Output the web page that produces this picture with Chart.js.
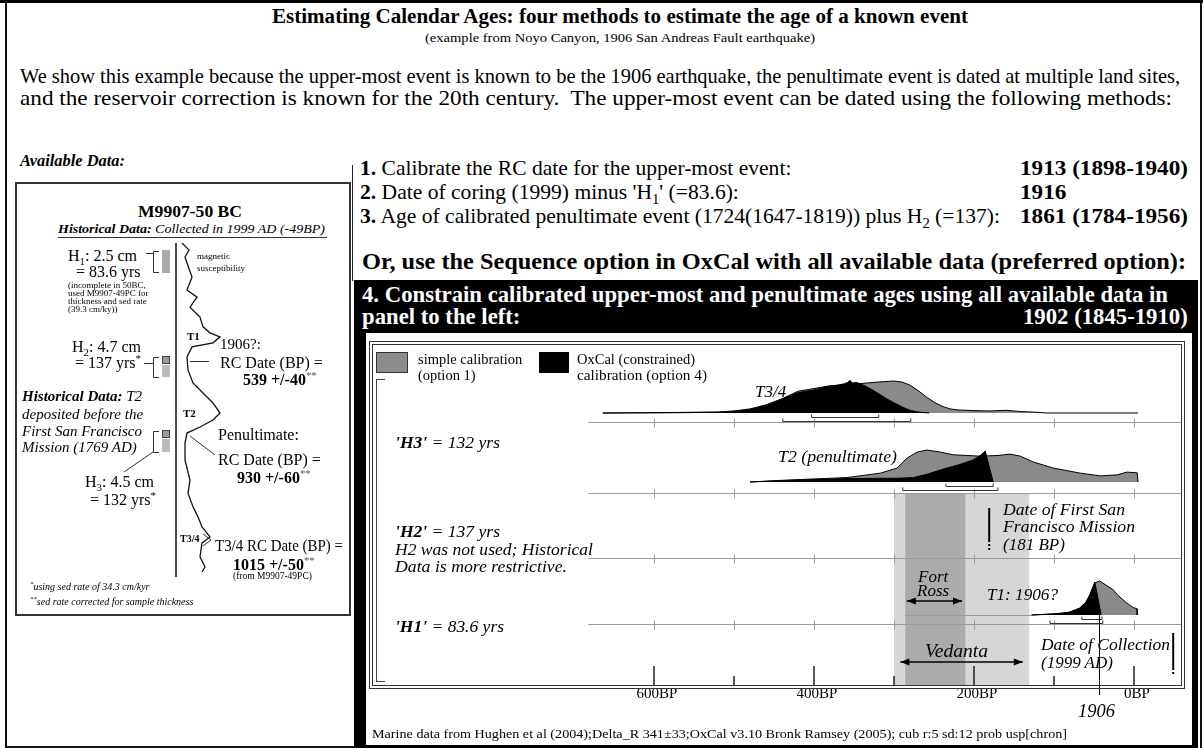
<!DOCTYPE html>
<html>
<head>
<meta charset="utf-8">
<title>Estimating Calendar Ages</title>
<script src="https://cdn.jsdelivr.net/npm/chart.js@4.4.1/dist/chart.umd.min.js"></script>
<style>
  body { margin: 0; width: 1203px; height: 748px; position: relative; overflow: hidden; background: #fff;
         font-family: "Liberation Serif", "Times New Roman", serif; color: #000; }
  .t { position: absolute; white-space: nowrap; line-height: 1; transform-origin: 0 0; }
  .t sub, .t sup { font-size: 0.68em; line-height: 0; }
  .r { position: absolute; box-sizing: border-box; }
  canvas { position: absolute; }
</style>
</head>
<body>
<div class="r" style="left:0;top:0;width:1203px;height:3px;background:#000"></div>
<div class="r" style="left:5px;top:0;width:2px;height:748px;background:#111"></div>
<div class="r" style="left:1200px;top:0;width:2px;height:748px;background:#111"></div>
<div class="r" style="left:5px;top:746px;width:350px;height:2px;background:#111"></div>
<div class="r" style="left:352px;top:165px;width:1px;height:116px;background:#222"></div>

<!-- left panel: core log -->
<div class="r" style="left:15px;top:182px;width:336px;height:434px;border:2px solid #333"></div>
<div class="r" style="left:58px;top:237px;width:269px;height:1px;background:#333"></div>
<svg class="r" style="left:0;top:0" width="360" height="620">
  <g fill="none" stroke="#333" stroke-width="1">
    <path d="M146 253.5H153M159 251.5H153.5V272.5H159"/>
    <path d="M144 363.5H153M159 357.5H153.5V377.5H159"/>
    <path d="M159 431.5H153.5V452.5H159M124 472L153 452"/>
    <path d="M190 361.5H209"/>
    <path d="M190 436L215 455"/>
    <path d="M203 534L211 540L203 546"/>
  </g>
  <rect x="162" y="250" width="8" height="23" fill="#aaa"/>
  <rect x="162.5" y="356.5" width="7" height="7" fill="#9a9a9a" stroke="#444"/>
  <rect x="162" y="365" width="8" height="12" fill="#bbb"/>
  <rect x="162.5" y="430.5" width="7" height="7" fill="#9a9a9a" stroke="#444"/>
  <rect x="162" y="439" width="8" height="13" fill="#bbb"/>
</svg>
<canvas id="core" width="70" height="340" style="left:170px;top:240px"></canvas>

<!-- right panel: OxCal plot -->
<div class="r" style="left:354px;top:280px;width:844px;height:468px;background:#000"></div>
<div class="r" style="left:366px;top:333px;width:826px;height:412px;background:#fff"></div>
<canvas id="cal" width="826" height="412" style="left:366px;top:333px"></canvas>
<div class="r" style="left:369px;top:341px;width:816px;height:348px;border:1px solid #333"></div>
<div class="r" style="left:372px;top:344px;width:810px;height:342px;border:1px solid #333"></div>
<div class="r" style="left:376px;top:379px;width:9px;height:303px;border:1px solid #444;border-right:none"></div>
<div class="r" style="left:376px;top:352px;width:32px;height:21px;background:#8c8c8c;border:1px solid #333"></div>
<div class="r" style="left:539px;top:352px;width:30px;height:21px;background:#000"></div>

<script>
// magnetic susceptibility log (arbitrary units) against depth in core (cm)
const coreDepth = [0, 2.1, 4.2, 6, 10.2, 14.1, 16.2, 19.2, 22.2, 25.1, 26.9, 28.1, 29.9, 31.1, 34.1, 38, 41.9, 44.9, 47.9, 50.9,
  53, 55.1, 56.9, 59.9, 65, 71, 74.9, 79, 82, 85, 88, 89.8, 94, 97, 98.5];
const coreSus = [7, 14, 10, 12, 17, 12, 22, 15, 25, 28, 35, 45, 38, 17, 12, 13, 18, 28, 38, 45,
  38, 25, 12, 10, 10, 15, 13, 18, 23, 27, 35, 27, 25, 30, 27];

// calibrated distributions, relative probability (%) against cal BP
const t34SimpleBP = [664, 600, 560, 520, 500, 480, 460, 440, 420, 400, 380, 360, 340, 320, 300, 290, 280, 270, 260, 250,
  240, 230, 220, 200, 180, 160, 150, 140, 120, 110, -5];
const t34SimpleP = [0, 1, 2, 3, 6, 12, 24, 42, 64, 72, 80, 84, 87, 91, 94, 91, 82, 66, 48, 32,
  20, 12, 9, 7, 6, 8, 6, 4, 2, 0, 0];
const t34OxcalBP = [664, 560, 520, 500, 480, 460, 440, 420, 400, 390, 382, 376, 368, 362, 358, 355, 352, 347, 340, 330,
  320, 310, 300, 290, 280, 270, 256];
const t34OxcalP = [0, 1, 2, 4, 10, 22, 40, 60, 68, 73, 79, 78, 83, 86, 90, 96, 88, 90, 84, 72,
  58, 43, 30, 18, 8, 3, 0];
const t2SimpleBP = [480, 440, 400, 359, 317, 296, 284, 271, 259, 242, 226, 192, 170, 155, 142, 126, 101, 67, 42, 21, 9, -4, -5];
const t2SimpleP = [0, 5, 9, 13, 26, 41, 70, 88, 94, 88, 80, 76, 78, 82, 76, 59, 41, 26, 18, 21, 29, 27, 0];
const t2OxcalBP = [480, 440, 400, 359, 317, 296, 276, 260, 234, 220, 201, 192, 186, 176];
const t2OxcalP = [0, 4, 7, 10, 11, 11, 13, 22, 41, 50, 65, 78, 91, 0];
const t1SimpleBP = [128, 100, 80, 68, 60, 55, 52, 49, 43, 35, 26, 21, 9, 1, -4, -4];
const t1SimpleP = [0, 3, 8, 20, 38, 60, 78, 94, 100, 88, 74, 60, 35, 22, 18, 0];
const t1OxcalBP = [128, 110, 90, 80, 68, 60, 55, 52, 49, 41];
const t1OxcalP = [0, 2, 5, 9, 20, 38, 60, 78, 97, 0];
const t1LeadBP = [286, 128];

// 68% and 95% ranges (T3/4, T2, T1)
const range68From = [403, 235, 65];
const range68To = [319, 176, 40];
const range95From = [439, 289, 105];
const range95To = [279, 170, 39];

// historical constraints
const bandNames = ['Vedanta', 'Fort Ross'];
const bandFrom = [300, 286];
const bandTo = [131, 211];
const missionBP = 181;
const collectionBP = -49;
const eventBP = 44;

const rowTickBP = [600, 500, 400, 300, 200, 100, 0];
const majorBP = [600, 400, 200, 0];
const minorBP = [500, 300, 100];
const tickLabels = ['600BP', '400BP', '200BP', '0BP'];

// layout of the OxCal plot (y units = px above frame bottom)
const ROW_H = 34;
const ROW_START = 682;
const rowAxisY = [264, 193, 128, 62];
const rowBase = [273, 204, 71];
const BAND_TOP = 193;
const bandColor = ['#d6d6d6', '#ababab'];
const GREY = '#8a8a8a';

function dist(bp, prob, base, color, order) {
  return {
    data: bp.map((b, i) => ({ x: b, y: base + prob[i] * ROW_H / 100 })),
    fill: { value: base },
    backgroundColor: color,
    borderColor: '#000',
    borderWidth: 1,
    pointRadius: 0,
    order: order
  };
}

const datasets = [
  dist(t34SimpleBP, t34SimpleP, rowBase[0], GREY, 2),
  dist(t34OxcalBP, t34OxcalP, rowBase[0], '#000', 1),
  dist(t2SimpleBP, t2SimpleP, rowBase[1], GREY, 2),
  dist(t2OxcalBP, t2OxcalP, rowBase[1], '#000', 1),
  dist(t1SimpleBP, t1SimpleP, rowBase[2], GREY, 2),
  dist(t1OxcalBP, t1OxcalP, rowBase[2], '#000', 1)
];

function arrow(ctx, x1, x2, yy) {
  ctx.beginPath(); ctx.moveTo(x1, yy); ctx.lineTo(x2, yy); ctx.stroke();
  [[x1, 1], [x2, -1]].forEach(([px, d]) => {
    ctx.beginPath();
    ctx.moveTo(px, yy); ctx.lineTo(px + d * 9, yy - 3.5); ctx.lineTo(px + d * 9, yy + 3.5);
    ctx.closePath(); ctx.fill();
  });
}

function marker(ctx, x, y, bp, top, solid, dotted) {
  const xx = x.getPixelForValue(bp);
  ctx.lineWidth = 2;
  ctx.beginPath(); ctx.moveTo(xx, y.getPixelForValue(top)); ctx.lineTo(xx, y.getPixelForValue(solid)); ctx.stroke();
  ctx.setLineDash([2, 2]);
  ctx.beginPath(); ctx.moveTo(xx, y.getPixelForValue(solid)); ctx.lineTo(xx, y.getPixelForValue(dotted)); ctx.stroke();
  ctx.setLineDash([]);
}

const decor = {
  id: 'decor',
  beforeDatasetsDraw(chart) {
    const { ctx, chartArea: a, scales: { x, y } } = chart;
    ctx.save();
    bandFrom.forEach((b, i) => {
      const x1 = x.getPixelForValue(b), x2 = x.getPixelForValue(bandTo[i]);
      const y1 = y.getPixelForValue(BAND_TOP), y2 = y.getPixelForValue(0);
      ctx.fillStyle = bandColor[i];
      ctx.fillRect(x1, y1, x2 - x1, y2 - y1);
    });
    ctx.strokeStyle = '#9a9a9a';
    ctx.lineWidth = 1;
    rowAxisY.forEach(v => {
      const yy = Math.round(y.getPixelForValue(v)) + 0.5;
      ctx.beginPath();
      ctx.moveTo(x.getPixelForValue(ROW_START), yy);
      ctx.lineTo(a.right, yy);
      rowTickBP.forEach(t => {
        const xx = Math.round(x.getPixelForValue(t)) + 0.5;
        ctx.moveTo(xx, yy - 4); ctx.lineTo(xx, yy + 5);
      });
      ctx.stroke();
    });
    const yb = Math.round(y.getPixelForValue(rowBase[2])) + 0.5;
    ctx.beginPath();
    ctx.moveTo(x.getPixelForValue(t1LeadBP[0]), yb);
    ctx.lineTo(x.getPixelForValue(t1LeadBP[1]), yb);
    ctx.stroke();
    ctx.restore();
  },
  afterDatasetsDraw(chart) {
    const { ctx, scales: { x, y } } = chart;
    ctx.save();
    ctx.strokeStyle = '#333';
    ctx.fillStyle = '#000';
    ctx.lineWidth = 1;
    // range brackets under each distribution
    rowBase.forEach((b, i) => {
      [[range68From[i], range68To[i], 4], [range95From[i], range95To[i], 8]].forEach(([f, t, off]) => {
        const yy = Math.round(y.getPixelForValue(b - off)) + 0.5;
        const x1 = x.getPixelForValue(f), x2 = x.getPixelForValue(t);
        ctx.beginPath();
        ctx.moveTo(x1, yy - 3); ctx.lineTo(x1, yy); ctx.lineTo(x2, yy); ctx.lineTo(x2, yy - 3);
        ctx.stroke();
      });
    });
    // historical dates
    ctx.strokeStyle = '#000';
    marker(ctx, x, y, missionBP, 178, 146, 135);
    marker(ctx, x, y, collectionBP, 53, 18, 10);
    ctx.lineWidth = 1;
    const ex = Math.round(x.getPixelForValue(eventBP)) + 0.5;
    ctx.beginPath(); ctx.moveTo(ex, y.getPixelForValue(rowBase[2])); ctx.lineTo(ex, y.getPixelForValue(-9)); ctx.stroke();
    // band arrows
    ctx.lineWidth = 1.3;
    arrow(ctx, x.getPixelForValue(bandFrom[1] - 2), x.getPixelForValue(bandTo[1] + 4), y.getPixelForValue(85));
    arrow(ctx, x.getPixelForValue(bandFrom[0] - 8), x.getPixelForValue(bandTo[0] + 8), y.getPixelForValue(24));
    // bottom axis
    ctx.lineWidth = 1.3;
    const y0 = y.getPixelForValue(0);
    ctx.beginPath();
    majorBP.forEach(t => { const xx = x.getPixelForValue(t); ctx.moveTo(xx, y0); ctx.lineTo(xx, y.getPixelForValue(20)); });
    minorBP.forEach(t => { const xx = x.getPixelForValue(t); ctx.moveTo(xx, y0); ctx.lineTo(xx, y.getPixelForValue(10)); });
    ctx.stroke();
    ctx.font = '15px "Liberation Serif", serif';
    ctx.textAlign = 'center';
    ctx.textBaseline = 'alphabetic';
    majorBP.forEach((t, i) => ctx.fillText(tickLabels[i], x.getPixelForValue(t) + 3, y.getPixelForValue(-12)));
    ctx.restore();
  }
};

new Chart(document.getElementById('cal'), {
  type: 'line',
  data: { datasets: datasets },
  options: {
    responsive: false,
    animation: false,
    events: [],
    layout: { padding: { left: 7, right: 10, top: 9, bottom: 59 } },
    scales: {
      x: { type: 'linear', reverse: true, min: -60, max: 951.25, display: false },
      y: { type: 'linear', min: 0, max: 344, display: false }
    },
    elements: { line: { tension: 0 } },
    plugins: { legend: { display: false }, tooltip: { enabled: false } }
  },
  plugins: [decor]
});

new Chart(document.getElementById('core'), {
  type: 'scatter',
  data: {
    datasets: [
      { data: coreDepth.map((d, i) => ({ x: coreSus[i], y: d })), showLine: true, borderColor: '#111', borderWidth: 1.3, pointRadius: 0 },
      { data: [{ x: 1, y: 0 }, { x: 1, y: 100 }], showLine: true, borderColor: '#333', borderWidth: 1, pointRadius: 0 }
    ]
  },
  options: {
    responsive: false,
    animation: false,
    events: [],
    layout: { padding: { top: 3, bottom: 3 } },
    scales: {
      x: { type: 'linear', min: -5, max: 65, display: false },
      y: { type: 'linear', reverse: true, min: 0, max: 100, display: false }
    },
    plugins: { legend: { display: false }, tooltip: { enabled: false } }
  }
});

// text
function put(x, base, size, html, o = {}) {
  const el = document.createElement('div');
  el.className = 't';
  el.innerHTML = html;
  el.style.fontSize = size + 'px';
  el.style.left = x + 'px';
  el.style.top = (base - 0.84 * size) + 'px';
  if (o.c) el.style.color = o.c;
  document.body.appendChild(el);
  const w = el.getBoundingClientRect().width;
  let s = o.sx || 1;
  if (o.w) s = o.w / w;
  if (s !== 1) el.style.transform = 'scaleX(' + s + ')';
  if (o.r) el.style.left = (x - w * s) + 'px';
  return s;
}

put(272, 23, 20, '<b>Estimating Calendar Ages: four methods to estimate the age of a known event</b>', { w: 696 });
put(425, 42, 13.5, '(example from Noyo Canyon, 1906 San Andreas Fault earthquake)', { w: 390 });
put(20, 84, 21.5, 'We show this example because the upper-most event is known to be the 1906 earthquake, the penultimate event is dated at multiple land sites,', { w: 1160 });
put(20, 106, 21.5, 'and the reservoir correction is known for the 20th century.&nbsp; The upper-most event can be dated using the following methods:', { w: 1152 });
put(20, 167, 16.5, '<b><i>Available Data:</i></b>', { w: 105 });

const sl = put(360, 224, 21, '<b>3.</b> Age of calibrated penultimate event (1724(1647-1819)) plus H<sub>2</sub> (=137):', { w: 640 });
put(360, 176, 21, '<b>1.</b> Calibrate the RC date for the upper-most event:', { sx: sl });
put(360, 200, 21, "<b>2.</b> Date of coring (1999) minus 'H<sub>1</sub>' (=83.6):", { sx: sl });
const sv = put(1020, 176, 21, '<b>1913 (1898-1940)</b>', { w: 168 });
put(1020, 200, 21, '<b>1916</b>', { sx: sv });
put(1020, 224, 21, '<b>1861 (1784-1956)</b>', { w: 168 });

put(362, 270, 23.5, '<b>Or, use the Sequence option in OxCal with all available data (preferred option):</b>', { w: 824 });
const s4 = put(362, 302, 23, '<b>4. Constrain calibrated upper-most and penultimate ages using all available data in</b>', { w: 806, c: '#fff' });
put(362, 324, 23, '<b>panel to the left:</b>', { c: '#fff', sx: s4 });
put(1188, 324, 23, '<b>1902 (1845-1910)</b>', { c: '#fff', r: 1, sx: s4 });

// left panel
put(138, 217, 17, '<b>M9907-50 BC</b>', { w: 104 });
put(58, 233, 13, '<b><i>Historical Data:</i></b><i> Collected in 1999 AD (-49BP)</i>', { w: 267 });
put(68, 261, 16, 'H<sub>1</sub>: 2.5 cm');
put(76, 277, 16, '= 83.6 yrs');
put(68, 289, 9, '(incomplete in 50BC,');
put(68, 297, 9, 'used M9907-49PC for');
put(68, 305, 9, 'thickness and sed rate');
put(68, 313, 9, '(39.3 cm/ky))');
put(197, 260, 9, 'magnetic');
put(197, 272, 9, 'susceptibility');
put(187, 340, 11, '<b>T1</b>');
put(220, 350, 15, '1906?:');
put(220, 368, 16, 'RC Date (BP) =');
put(243, 385, 16, '<b>539 +/-40</b><sup style="color:#555">**</sup>');
put(72, 352, 16, 'H<sub>2</sub>: 4.7 cm');
put(75, 368, 16, '= 137 yrs<sup>*</sup>');
put(22, 402, 15, '<b><i>Historical Data:</i></b><i> T2</i>');
put(22, 420, 15, '<i>deposited before the</i>');
put(22, 437, 15, '<i>First San Francisco</i>');
put(22, 453, 15, '<i>Mission (1769 AD)</i>');
put(183, 417, 11, '<b>T2</b>');
put(218, 440, 16, 'Penultimate:');
put(218, 465, 16, 'RC Date (BP) =');
put(237, 483, 16, '<b>930 +/-60</b><sup style="color:#555">**</sup>');
put(85, 487, 16, 'H<sub>3</sub>: 4.5 cm');
put(90, 505, 16, '= 132 yrs<sup>*</sup>');
put(180, 542, 10, '<b>T3/4</b>');
put(215, 551, 16, 'T3/4 RC Date (BP) =', { w: 128 });
put(233, 570, 16, '<b>1015 +/-50</b><sup style="color:#555">**</sup>');
put(233, 580, 9.5, '(from M9907-49PC)');
put(30, 590, 10, '<i><sup>*</sup>using sed rate of 34.3 cm/kyr</i>');
put(30, 605, 10, '<i><sup>**</sup>sed rate corrected for sample thickness</i>');

// OxCal plot labels
put(418, 364, 14.5, 'simple calibration');
put(418, 380, 14.5, '(option 1)');
put(577, 364, 14.5, 'OxCal (constrained)');
put(577, 380, 14.5, 'calibration (option 4)', { w: 130 });
put(755, 397, 17, '<i>T3/4</i>');
put(778, 462, 17, '<i>T2 (penultimate)</i>', { w: 119 });
put(395, 448, 17, "<i><b>'H3'</b> = 132 yrs</i>", { w: 105 });
put(395, 537, 17, "<i><b>'H2'</b> = 137 yrs</i>", { w: 105 });
put(395, 555, 17, '<i>H2 was not used; Historical</i>', { w: 198 });
put(395, 572, 17, '<i>Data is more restrictive.</i>', { w: 172 });
put(395, 632, 17, "<i><b>'H1'</b> = 83.6 yrs</i>", { w: 109 });
put(1003, 515, 17, '<i>Date of First San</i>', { w: 122 });
put(1003, 532, 17, '<i>Francisco Mission</i>', { w: 132 });
put(1003, 550, 17, '<i>(181 BP)</i>');
put(918, 582, 17, '<i>Fort</i>');
put(917, 596, 17, '<i>Ross</i>');
put(987, 600, 17, '<i>T1: 1906?</i>', { w: 71 });
put(925, 657, 18, '<i>' + bandNames[0] + '</i>', { w: 63 });
put(1041, 650, 17, '<i>Date of Collection</i>', { w: 129 });
put(1041, 668, 17, '<i>(1999 AD)</i>');
put(1078, 717, 18, '<i>1906</i>', { w: 37 });
put(372, 738, 13.5, 'Marine data from Hughen et al (2004);Delta_R 341±33;OxCal v3.10 Bronk Ramsey (2005); cub r:5 sd:12 prob usp[chron]', { w: 695 });
</script>
</body>
</html>
